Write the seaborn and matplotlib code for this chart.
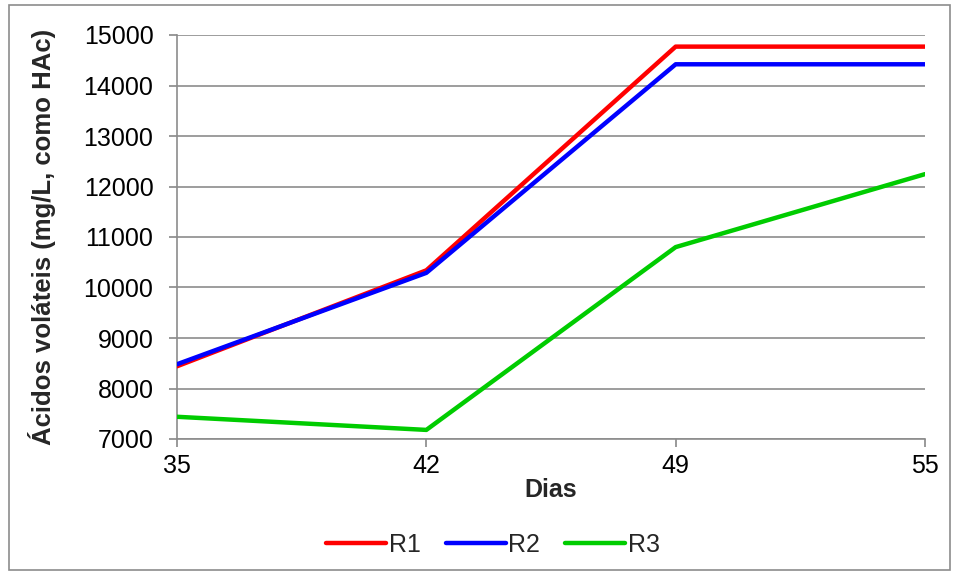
import numpy as np
import pandas as pd
import matplotlib
matplotlib.use("Agg")
import matplotlib.pyplot as plt
import seaborn as sns
from matplotlib.patches import Rectangle

dias = ["35", "42", "49", "55"]
r1 = [8440, 10340, 14770, 14770]
r2 = [8480, 10290, 14420, 14420]
r3 = [7440, 7180, 10800, 12245]
series_names = ["R1", "R2", "R3"]
colors = ["#FF0000", "#0000FF", "#00CC00"]
yticks = list(range(7000, 15001, 1000))

df = pd.DataFrame({
    "Dias": dias * 3,
    "valor": r1 + r2 + r3,
    "serie": [s for s in series_names for _ in dias],
})
df["pos"] = df["Dias"].map({d: i for i, d in enumerate(dias)})

sns.set_style("white")
plt.rcParams["font.family"] = ["Liberation Sans", "DejaVu Sans"]

fig = plt.figure(figsize=(9.58, 5.75), dpi=100)
ax = fig.add_axes([177 / 958, 1 - 439 / 575, (925 - 177) / 958, (439 - 35) / 575])

sns.lineplot(data=df, x="pos", y="valor", hue="serie", palette=colors,
             linewidth=3.2, ax=ax, legend=True, solid_capstyle="round", zorder=3)

ax.set_xlim(0, 3)
ax.set_ylim(7000, 15000)
ax.set_xticks(range(len(dias)))
ax.set_xticklabels(dias)
ax.set_yticks(yticks)
ax.set_yticklabels([str(v) for v in yticks])
ax.tick_params(axis="both", labelsize=18, colors="#888888", labelcolor="black",
               length=6, width=1.2, direction="out", bottom=True, left=True)
ax.tick_params(axis="y", pad=11)
ax.tick_params(axis="x", pad=5)
ax.grid(axis="y", color="#8C8C8C", linewidth=1.2)
ax.grid(axis="x", visible=False)
for side in ["top", "right"]:
    ax.spines[side].set_visible(False)
for side in ["left", "bottom"]:
    ax.spines[side].set_color("#8C8C8C")
    ax.spines[side].set_linewidth(1.2)

ax.set_xlabel("Dias", fontsize=18, fontweight="bold", labelpad=0)
ax.set_ylabel("Ácidos voláteis (mg/L, como HAc)", fontsize=18.5, fontweight="bold", labelpad=20)

handles, labels = ax.get_legend_handles_labels()
leg = ax.legend(handles, labels, loc="center", bbox_to_anchor=(0.4225, -0.262),
                ncol=3, frameon=False, fontsize=18, handlelength=2.4,
                handletextpad=0.1, columnspacing=1.0)
for line in leg.get_lines():
    line.set_linewidth(3.2)
    line.set_solid_capstyle("round")

fig.patches.append(Rectangle((9 / 958, 1 - 570 / 575), (950 - 9) / 958, (570 - 5) / 575,
                             transform=fig.transFigure, fill=False,
                             edgecolor="#8C8C8C", linewidth=1.2))

fig.savefig("out.png", dpi=100)
